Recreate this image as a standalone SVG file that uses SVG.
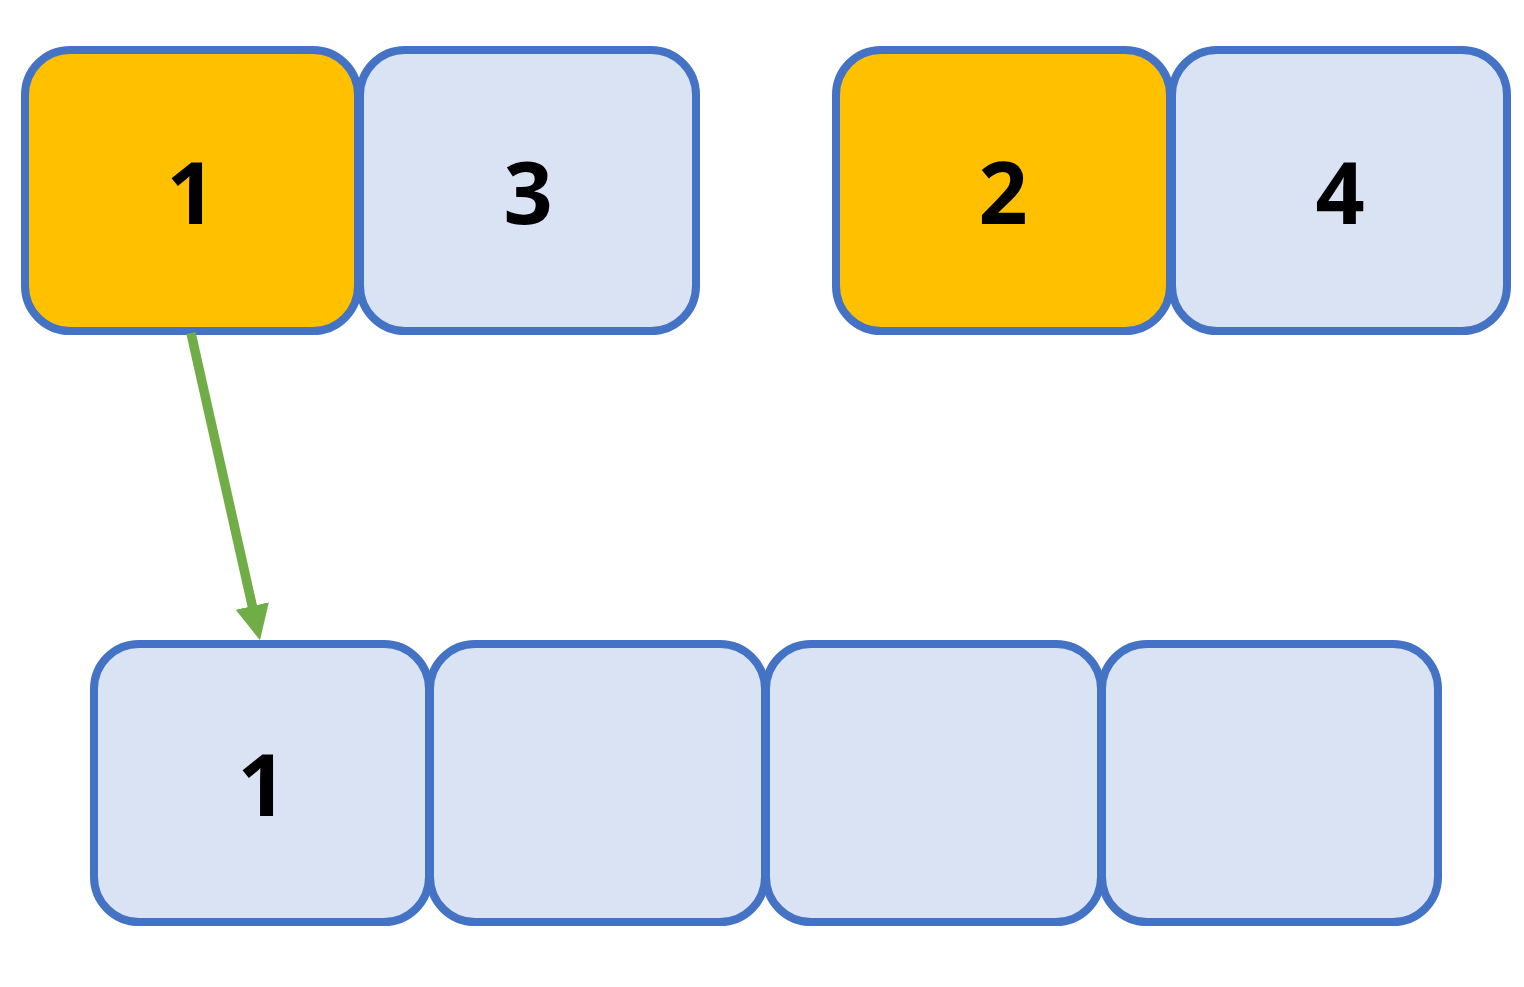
<svg xmlns="http://www.w3.org/2000/svg" width="1524" height="987" viewBox="0 0 1524 987">
<style>
.box{stroke:#4472C4;stroke-width:8;}
.blue{fill:#DAE3F3;}
.gold{fill:#FFC000;}
.lbl{font-family:"Open Sans","Noto Sans",sans-serif;font-weight:bold;font-size:86px;fill:#000;text-anchor:middle;}
</style>
<defs>
<marker id="ah" markerUnits="userSpaceOnUse" markerWidth="36" markerHeight="36" viewBox="0 0 36 36" refX="1" refY="18" orient="auto">
<path d="M0,1 L35,18 L0,35 Z" fill="#70AD47"/>
</marker>
</defs>
<g id="n1"><rect class="box gold" x="25" y="50" width="333" height="281" rx="45"/><text class="lbl" x="191" y="224">1</text></g>
<g id="n3"><rect class="box blue" x="360" y="50" width="336" height="281" rx="45"/><text class="lbl" x="528" y="224">3</text></g>
<g id="n2"><rect class="box gold" x="836" y="50" width="334" height="281" rx="45"/><text class="lbl" x="1003" y="224">2</text></g>
<g id="n4"><rect class="box blue" x="1172" y="50" width="335" height="281" rx="45"/><text class="lbl" x="1340" y="224">4</text></g>
<g id="b1"><rect class="box blue" x="94" y="644" width="335" height="278" rx="45"/><text class="lbl" x="262" y="816">1</text></g>
<g id="b2"><rect class="box blue" x="430" y="644" width="335" height="278" rx="45"/></g>
<g id="b3"><rect class="box blue" x="766" y="644" width="335" height="278" rx="45"/></g>
<g id="b4"><rect class="box blue" x="1102" y="644" width="336" height="278" rx="45"/></g>
<g id="connectors">
<line x1="191" y1="333" x2="252.5" y2="607" stroke="#70AD47" stroke-width="9.5" marker-end="url(#ah)"/>
</g>
</svg>
